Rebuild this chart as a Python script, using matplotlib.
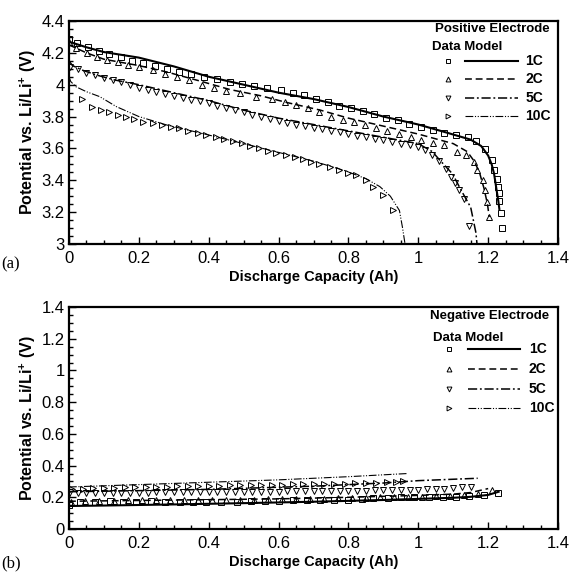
import matplotlib
matplotlib.use("Agg")
import matplotlib.pyplot as plt
from matplotlib.ticker import MultipleLocator

plt.rcParams['font.family'] = ['Liberation Sans', 'DejaVu Sans']
plt.rcParams['mathtext.fontset'] = 'custom'
plt.rcParams['mathtext.rm'] = 'Liberation Sans'
plt.rcParams['mathtext.bf'] = 'Liberation Sans:bold'

# ---------------- Positive electrode (a) ----------------
pos_1c_data_x = [0, 0.023, 0.054, 0.086, 0.116, 0.15, 0.18, 0.213, 0.246, 0.28, 0.316, 0.35, 0.386, 0.423,
                 0.46, 0.495, 0.53, 0.567, 0.608, 0.641, 0.674, 0.708, 0.741, 0.774, 0.808, 0.841, 0.874,
                 0.908, 0.941, 0.974, 1.008, 1.041, 1.074, 1.108, 1.141, 1.165, 1.191, 1.212, 1.217, 1.224,
                 1.229, 1.231, 1.232, 1.236, 1.24]
pos_1c_data_y = [4.29, 4.264, 4.239, 4.214, 4.193, 4.172, 4.151, 4.134, 4.119, 4.099, 4.082, 4.067, 4.05, 4.034,
                 4.019, 4.004, 3.992, 3.977, 3.967, 3.946, 3.935, 3.912, 3.893, 3.866, 3.852, 3.835, 3.814,
                 3.789, 3.778, 3.753, 3.736, 3.716, 3.699, 3.684, 3.67, 3.645, 3.594, 3.527, 3.465, 3.406,
                 3.36, 3.318, 3.27, 3.193, 3.098]
pos_1c_model_x = [0, 0.05, 0.1, 0.2, 0.3, 0.4, 0.5, 0.6, 0.7, 0.8, 0.9, 1.0, 1.08, 1.15, 1.18, 1.2, 1.21,
                  1.217, 1.224, 1.229, 1.232]
pos_1c_model_y = [4.27, 4.235, 4.205, 4.17, 4.115, 4.05, 4.0, 3.95, 3.91, 3.86, 3.8, 3.75, 3.70, 3.655,
                  3.615, 3.555, 3.50, 3.44, 3.34, 3.27, 3.22]

pos_2c_data_x = [0, 0.021, 0.051, 0.08, 0.11, 0.14, 0.17, 0.2, 0.24, 0.275, 0.31, 0.345, 0.38, 0.415, 0.45,
                 0.49, 0.535, 0.58, 0.617, 0.65, 0.684, 0.717, 0.75, 0.784, 0.817, 0.846, 0.879, 0.91, 0.945,
                 0.979, 1.008, 1.041, 1.074, 1.112, 1.136, 1.16, 1.169, 1.184, 1.191, 1.198, 1.203]
pos_2c_data_y = [4.27, 4.228, 4.2, 4.175, 4.155, 4.14, 4.125, 4.11, 4.09, 4.07, 4.05, 4.03, 4.0, 3.98, 3.96,
                 3.945, 3.925, 3.908, 3.893, 3.872, 3.852, 3.83, 3.80, 3.78, 3.765, 3.747, 3.726, 3.712, 3.69,
                 3.674, 3.653, 3.636, 3.621, 3.579, 3.559, 3.517, 3.465, 3.402, 3.339, 3.266, 3.172]
pos_2c_model_x = [0, 0.05, 0.1, 0.2, 0.28, 0.38, 0.46, 0.55, 0.62, 0.72, 0.8, 0.9, 1.0, 1.1, 1.14, 1.16,
                  1.175, 1.188, 1.198, 1.203]
pos_2c_model_y = [4.25, 4.2, 4.16, 4.12, 4.08, 4.02, 3.97, 3.93, 3.89, 3.84, 3.79, 3.74, 3.69, 3.63, 3.58,
                  3.52, 3.45, 3.35, 3.25, 3.17]

pos_5c_data_x = [0.003, 0.025, 0.05, 0.075, 0.1, 0.125, 0.15, 0.175, 0.2, 0.225, 0.25, 0.275, 0.3, 0.325,
                 0.35, 0.375, 0.4, 0.425, 0.45, 0.475, 0.5, 0.525, 0.55, 0.575, 0.6, 0.625, 0.65, 0.675, 0.7,
                 0.725, 0.75, 0.775, 0.8, 0.825, 0.85, 0.875, 0.9, 0.925, 0.95, 0.975, 1.0, 1.02, 1.04, 1.06,
                 1.079, 1.093, 1.105, 1.117, 1.131, 1.146]
pos_5c_data_y = [4.113, 4.097, 4.075, 4.058, 4.043, 4.028, 4.014, 3.995, 3.98, 3.965, 3.953, 3.942, 3.93,
                 3.918, 3.906, 3.895, 3.883, 3.869, 3.855, 3.841, 3.827, 3.812, 3.798, 3.784, 3.77, 3.76,
                 3.75, 3.74, 3.73, 3.72, 3.71, 3.70, 3.69, 3.68, 3.67, 3.66, 3.65, 3.64, 3.63, 3.62, 3.61,
                 3.59, 3.56, 3.52, 3.47, 3.42, 3.38, 3.34, 3.28, 3.11]
pos_5c_model_x = [0, 0.01, 0.04, 0.08, 0.13, 0.2, 0.3, 0.4, 0.5, 0.6, 0.7, 0.8, 0.9, 1.0, 1.04, 1.06,
                  1.098, 1.122, 1.15, 1.165, 1.168]
pos_5c_model_y = [4.15, 4.12, 4.09, 4.06, 4.03, 4.0, 3.95, 3.9, 3.84, 3.79, 3.75, 3.71, 3.67, 3.63, 3.58,
                  3.53, 3.44, 3.34, 3.23, 3.07, 3.0]

pos_10c_data_x = [0.038, 0.067, 0.092, 0.116, 0.139, 0.163, 0.187, 0.211, 0.24, 0.265, 0.292, 0.316, 0.34,
                  0.369, 0.393, 0.42, 0.443, 0.47, 0.496, 0.519, 0.544, 0.57, 0.593, 0.622, 0.646, 0.669,
                  0.693, 0.717, 0.746, 0.772, 0.798, 0.822, 0.849, 0.871, 0.898, 0.927]
pos_10c_data_y = [3.908, 3.858, 3.841, 3.826, 3.81, 3.795, 3.783, 3.768, 3.757, 3.747, 3.736, 3.726, 3.709,
                  3.699, 3.684, 3.674, 3.657, 3.647, 3.632, 3.615, 3.60, 3.586, 3.573, 3.559, 3.548, 3.532,
                  3.517, 3.502, 3.485, 3.465, 3.448, 3.433, 3.402, 3.36, 3.308, 3.213]
pos_10c_model_x = [0, 0.005, 0.02, 0.05, 0.088, 0.136, 0.2, 0.28, 0.4, 0.5, 0.6, 0.7, 0.79, 0.85, 0.89,
                   0.92, 0.946, 0.955, 0.962]
pos_10c_model_y = [4.05, 4.02, 3.987, 3.956, 3.925, 3.862, 3.80, 3.747, 3.684, 3.63, 3.575, 3.52, 3.46,
                   3.41, 3.36, 3.30, 3.21, 3.10, 3.0]

# ---------------- Negative electrode (b) ----------------
neg_1c_data_x = [0, 0.031, 0.074, 0.117, 0.155, 0.193, 0.236, 0.274, 0.317, 0.355, 0.393, 0.436, 0.48, 0.52,
                 0.56, 0.6, 0.64, 0.68, 0.72, 0.76, 0.8, 0.84, 0.87, 0.912, 0.95, 0.989, 1.03, 1.07, 1.108,
                 1.146, 1.189, 1.227]
neg_1c_data_y = [0.15, 0.172, 0.172, 0.175, 0.172, 0.172, 0.175, 0.172, 0.172, 0.172, 0.172, 0.172, 0.172,
                 0.175, 0.175, 0.175, 0.18, 0.18, 0.183, 0.185, 0.185, 0.19, 0.193, 0.193, 0.2, 0.2, 0.2,
                 0.203, 0.204, 0.208, 0.214, 0.225]
neg_1c_model_x = [0, 0.1, 0.3, 0.5, 0.7, 0.9, 1.0, 1.1, 1.15, 1.2, 1.23]
neg_1c_model_y = [0.145, 0.148, 0.155, 0.163, 0.172, 0.183, 0.19, 0.197, 0.203, 0.215, 0.235]

neg_2c_data_x = [0.005, 0.045, 0.085, 0.13, 0.17, 0.21, 0.25, 0.29, 0.33, 0.37, 0.41, 0.45, 0.49, 0.53, 0.57,
                 0.61, 0.65, 0.69, 0.73, 0.77, 0.81, 0.85, 0.89, 0.93, 0.97, 1.01, 1.05, 1.09, 1.13, 1.17, 1.21]
neg_2c_data_y = [0.17, 0.178, 0.178, 0.178, 0.18, 0.18, 0.18, 0.18, 0.182, 0.182, 0.183, 0.183, 0.185, 0.185,
                 0.187, 0.188, 0.19, 0.19, 0.192, 0.193, 0.195, 0.197, 0.2, 0.2, 0.203, 0.205, 0.207, 0.21,
                 0.213, 0.22, 0.245]
neg_2c_model_x = [0, 0.2, 0.4, 0.6, 0.8, 1.0, 1.1, 1.15, 1.2]
neg_2c_model_y = [0.175, 0.18, 0.185, 0.19, 0.2, 0.212, 0.22, 0.23, 0.255]

neg_5c_data_x = [0.0, 0.025, 0.05, 0.075, 0.1, 0.125, 0.15, 0.175, 0.2, 0.225, 0.25, 0.275, 0.3, 0.325, 0.35,
                 0.375, 0.4, 0.425, 0.45, 0.475, 0.5, 0.525, 0.55, 0.575, 0.6, 0.625, 0.65, 0.675, 0.7, 0.725,
                 0.75, 0.775, 0.8, 0.825, 0.85, 0.875, 0.9, 0.925, 0.95, 0.975, 1.0, 1.025, 1.05, 1.075, 1.1,
                 1.125, 1.15]
neg_5c_data_y = [0.22, 0.225, 0.226, 0.227, 0.228, 0.228, 0.229, 0.229, 0.23, 0.23, 0.231, 0.231, 0.232,
                 0.232, 0.232, 0.233, 0.233, 0.233, 0.234, 0.234, 0.234, 0.235, 0.235, 0.236, 0.236, 0.237,
                 0.237, 0.238, 0.238, 0.239, 0.239, 0.24, 0.24, 0.241, 0.242, 0.243, 0.244, 0.245, 0.246,
                 0.247, 0.248, 0.25, 0.252, 0.255, 0.258, 0.262, 0.267]
neg_5c_model_x = [0, 0.2, 0.4, 0.7, 0.9, 1.0, 1.17]
neg_5c_model_y = [0.235, 0.242, 0.25, 0.27, 0.29, 0.305, 0.32]

neg_10c_data_x = [0.01, 0.04, 0.07, 0.1, 0.13, 0.16, 0.19, 0.22, 0.25, 0.28, 0.31, 0.34, 0.37, 0.4, 0.43,
                  0.46, 0.49, 0.52, 0.55, 0.58, 0.61, 0.64, 0.67, 0.7, 0.73, 0.76, 0.79, 0.82, 0.85, 0.88,
                  0.91, 0.935, 0.955]
neg_10c_data_y = [0.25, 0.255, 0.257, 0.259, 0.261, 0.263, 0.264, 0.266, 0.267, 0.268, 0.27, 0.271, 0.272,
                  0.273, 0.274, 0.275, 0.276, 0.277, 0.278, 0.279, 0.28, 0.281, 0.282, 0.283, 0.284, 0.285,
                  0.287, 0.288, 0.29, 0.292, 0.294, 0.297, 0.3]
neg_10c_model_x = [0, 0.2, 0.4, 0.6, 0.8, 0.97]
neg_10c_model_y = [0.265, 0.28, 0.295, 0.31, 0.33, 0.35]

rate_labels = ['1C', '2C', '5C', '10C']
markers = ['s', '^', 'v', '>']
linestyles = ['-', (0, (4.5, 2.5)), (0, (6, 1.8, 1.2, 1.8)), (0, (7, 1.5, 1, 1.5, 1, 1.5))]
linewidths = [1.5, 1.1, 1.1, 0.8]
marker_sizes = [4.5, 5, 5, 5]

pos_series = [
    (pos_1c_data_x, pos_1c_data_y, pos_1c_model_x, pos_1c_model_y),
    (pos_2c_data_x, pos_2c_data_y, pos_2c_model_x, pos_2c_model_y),
    (pos_5c_data_x, pos_5c_data_y, pos_5c_model_x, pos_5c_model_y),
    (pos_10c_data_x, pos_10c_data_y, pos_10c_model_x, pos_10c_model_y),
]
neg_series = [
    (neg_1c_data_x, neg_1c_data_y, neg_1c_model_x, neg_1c_model_y),
    (neg_2c_data_x, neg_2c_data_y, neg_2c_model_x, neg_2c_model_y),
    (neg_5c_data_x, neg_5c_data_y, neg_5c_model_x, neg_5c_model_y),
    (neg_10c_data_x, neg_10c_data_y, neg_10c_model_x, neg_10c_model_y),
]

fig = plt.figure(figsize=(5.7, 5.75), dpi=100)
ax_a = fig.add_axes([0.121, 0.5757, 0.858, 0.3878])
ax_b = fig.add_axes([0.121, 0.080, 0.858, 0.386])

ylabel = r'Potential vs. Li/Li$^{\mathbf{+}}$ (V)'


def style_axes(ax, ylim, ymaj):
    ax.set_xlim(0, 1.4)
    ax.set_ylim(*ylim)
    ax.xaxis.set_major_locator(MultipleLocator(0.2))
    ax.xaxis.set_minor_locator(MultipleLocator(0.05))
    ax.yaxis.set_major_locator(MultipleLocator(ymaj))
    ax.yaxis.set_minor_locator(MultipleLocator(ymaj / 4))
    ax.tick_params(which='both', direction='in', top=False, right=False, labelsize=12,
                   width=1.0)
    ax.tick_params(axis='x', pad=5)
    ax.tick_params(axis='y', pad=3)
    ax.tick_params(which='major', length=5)
    ax.tick_params(which='minor', length=3)
    for s in ax.spines.values():
        s.set_linewidth(1.6)
    ax.xaxis.set_major_formatter(plt.FuncFormatter(lambda v, p: f'{v:g}'))
    ax.yaxis.set_major_formatter(plt.FuncFormatter(lambda v, p: f'{v:g}'))
    ax.set_xlabel('Discharge Capacity (Ah)', fontsize=10.5, fontweight='bold', labelpad=3)
    ax.set_ylabel(ylabel, fontsize=11.5, fontweight='bold', labelpad=3)


def draw_series(ax, series):
    for i, (dx, dy, mx, my) in enumerate(series):
        ax.plot(mx, my, color='black', linestyle=linestyles[i], linewidth=linewidths[i], zorder=2)
        ax.plot(dx, dy, linestyle='none', marker=markers[i], markersize=marker_sizes[i],
                markerfacecolor='none', markeredgecolor='black', markeredgewidth=0.7, zorder=3)


def draw_legend(ax, title, title_y, dm_y, row_ys, mx, lx0, lx1, tx):
    ax.text(0.982, title_y, title, transform=ax.transAxes, ha='right', va='center',
            fontsize=9.5, fontweight='bold')
    ax.text(mx - 0.033, dm_y, 'Data Model', transform=ax.transAxes, ha='left', va='center',
            fontsize=9.5, fontweight='bold')
    for i, ry in enumerate(row_ys):
        ax.plot([mx], [ry], transform=ax.transAxes, linestyle='none', marker=markers[i],
                markersize=3.5, markerfacecolor='none', markeredgecolor='black', markeredgewidth=0.7)
        ax.plot([lx0, lx1], [ry, ry], transform=ax.transAxes, color='black',
                linestyle=linestyles[i], linewidth=linewidths[i])
        ax.text(tx, ry, rate_labels[i], transform=ax.transAxes, ha='left', va='center',
                fontsize=10, fontweight='bold')


style_axes(ax_a, (3, 4.4), 0.2)
draw_series(ax_a, pos_series)
draw_legend(ax_a, 'Positive Electrode', 0.966, 0.885, [0.821, 0.74, 0.655, 0.574],
            0.775, 0.81, 0.918, 0.933)

style_axes(ax_b, (0, 1.4), 0.2)
draw_series(ax_b, neg_series)
draw_legend(ax_b, 'Negative Electrode', 0.958, 0.86, [0.81, 0.72, 0.63, 0.545],
            0.777, 0.816, 0.922, 0.94)

fig.text(0.002, 1 - 264 / 575, '(a)', fontsize=12, family=['Liberation Serif', 'DejaVu Serif'],
         va='center', ha='left')
fig.text(0.002, 1 - 563 / 575, '(b)', fontsize=12, family=['Liberation Serif', 'DejaVu Serif'],
         va='center', ha='left')

fig.savefig('out.png', dpi=100)
